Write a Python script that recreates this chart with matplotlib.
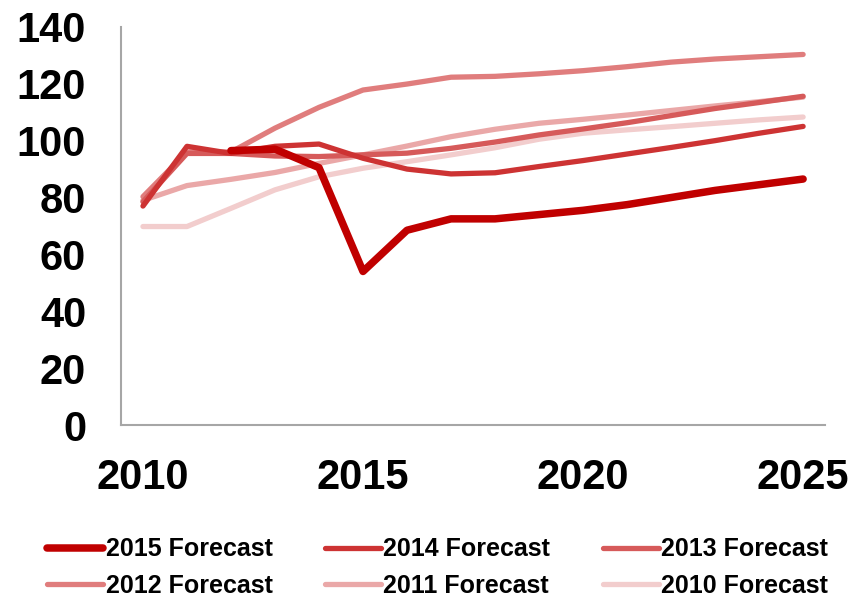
import matplotlib
matplotlib.use("Agg")
import matplotlib.pyplot as plt
import numpy as np

years = list(range(2010, 2026))

# forecasts (None = no value for that year)
f2015 = [None, None, 96.5, 97, 90.5, 54, 68.5, 72.5, 72.5, 74, 75.5, 77.5, 80, 82.5, 84.5, 86.5]
f2014 = [77, 98, 95.5, 98, 98.8, 93.8, 90, 88.3, 88.7, 90.9, 93, 95.3, 97.6, 100, 102.6, 105]
f2013 = [78.5, 95.5, 95.5, 94.6, 94.4, 95, 95.6, 97.3, 99.5, 102, 104.1, 106.3, 108.8, 111.3, 113.4, 115.6]
f2012 = [80.3, 96, 96, 104.4, 111.7, 117.8, 119.9, 122.3, 122.6, 123.5, 124.6, 126, 127.6, 128.7, 129.5, 130.3]
f2011 = [79, 84.2, 86.4, 88.8, 92, 95, 98.1, 101.4, 104, 106.1, 107.5, 109, 110.6, 112.2, 113.7, 115.3]
f2010 = [69.8, 69.8, 76.2, 82.7, 87.3, 90.3, 92.6, 95, 97.5, 100.5, 102.6, 103.8, 104.9, 106.1, 107.3, 108.3]

labels = ["2015 Forecast", "2014 Forecast", "2013 Forecast",
          "2012 Forecast", "2011 Forecast", "2010 Forecast"]
series = [f2015, f2014, f2013, f2012, f2011, f2010]
colors = ["#C00000", "#CD3333", "#D65A5A", "#E07D7D", "#EAA8A8", "#F2CDCD"]
widths = [5.4, 3.8, 3.8, 3.8, 3.8, 3.8]

fig = plt.figure(figsize=(8.64, 5.97), dpi=100)
ax = fig.add_axes([0.140, 0.288, 0.815, 0.667])

lines = {}
# draw lightest first so the dark ones sit on top
for i in reversed(range(len(series))):
    y = np.array([np.nan if v is None else v for v in series[i]], dtype=float)
    ln, = ax.plot(years, y, color=colors[i], lw=widths[i], solid_capstyle="round",
                  solid_joinstyle="round", label=labels[i])
    lines[i] = ln

ax.set_xlim(2009.5, 2025.5)
ax.set_ylim(0, 140)
ax.set_xticks([2010, 2015, 2020, 2025])
ax.set_yticks(range(0, 141, 20))
ax.tick_params(length=0)
ax.tick_params(axis="y", pad=25)
ax.tick_params(axis="x", pad=24)
for lab in ax.get_xticklabels() + ax.get_yticklabels():
    lab.set_fontfamily("Liberation Sans")
    lab.set_fontweight("bold")
    lab.set_fontsize(30)

for s in ["top", "right"]:
    ax.spines[s].set_visible(False)
for s in ["left", "bottom"]:
    ax.spines[s].set_color("#A6A6A6")
    ax.spines[s].set_linewidth(1.5)

# legend is filled column by column, so reorder to get row-wise layout
order = [0, 3, 1, 4, 2, 5]
leg = fig.legend([lines[i] for i in order], [labels[i] for i in order],
                 ncol=3, loc="upper left", bbox_to_anchor=(0.0544, 0.1),
                 frameon=False, borderpad=0, borderaxespad=0,
                 handlelength=2.24, handletextpad=0.1,
                 columnspacing=2.1, labelspacing=0.5,
                 prop={"family": "Liberation Sans", "weight": "bold", "size": 18})

fig.savefig("out.png", dpi=100)
